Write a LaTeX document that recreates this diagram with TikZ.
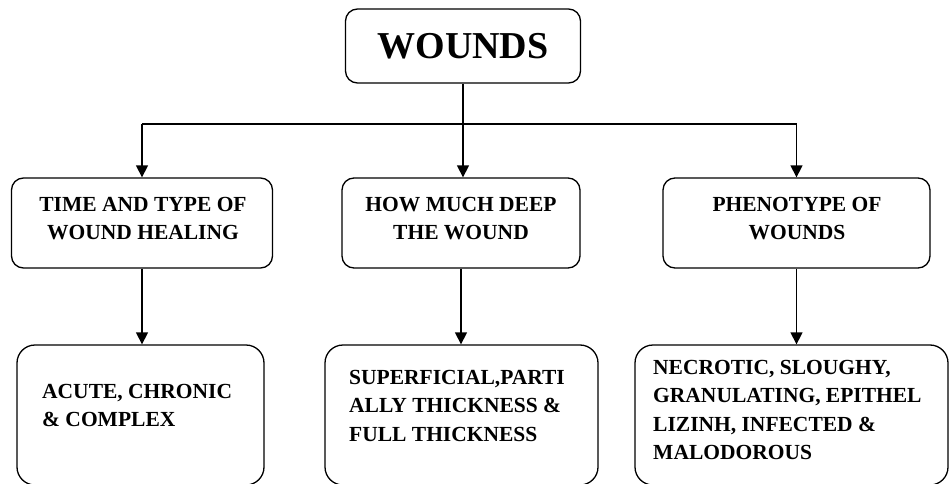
\documentclass[tikz,border=0pt]{standalone}
\usepackage{fontspec}
\setmainfont{Liberation Serif}
\usetikzlibrary{arrows.meta}
\begin{document}
\begin{tikzpicture}[x=1pt,y=-1pt,
  box/.style={draw, line width=1.3pt, rounded corners=12pt, inner sep=0pt},
  bigbox/.style={draw, line width=1.3pt, rounded corners=18pt, inner sep=0pt},
  conn/.style={line width=1.3pt},
  arr/.style={conn, -{Triangle[length=12pt,width=12pt]}},
  head/.style={font=\bfseries\fontsize{38}{40}\selectfont},
  midtxt/.style={inner sep=0pt, align=center, anchor=north,
    font=\bfseries\fontsize{21.5}{28.5}\selectfont},
  lowtxt/.style={inner sep=0pt, align=left, anchor=north west,
    font=\bfseries\fontsize{21.5}{28.5}\selectfont}]
  \useasboundingbox (0,0) rectangle (950,484);

  % root
  \node[box, minimum width=235pt, minimum height=74pt] (wounds) at (463,46) {};
  \node[head] (woundsT) at (463,46) {WOUNDS};

  % second level
  \node[box, minimum width=261pt, minimum height=90pt] (m1) at (142,223) {};
  \node[box, minimum width=238pt, minimum height=90pt] (m2) at (461,223) {};
  \node[box, minimum width=267pt, minimum height=90pt] (m3) at (796.5,223) {};
  \node[midtxt] (m1T) at (143,197) {TIME AND TYPE OF\\WOUND HEALING};
  \node[midtxt] (m2T) at (461,197) {HOW MUCH DEEP\\THE WOUND};
  \node[midtxt] (m3T) at (797,197) {PHENOTYPE OF\\WOUNDS};

  % third level
  \node[bigbox, minimum width=247pt, minimum height=140pt] (b1) at (140.5,415) {};
  \node[bigbox, minimum width=273pt, minimum height=140pt] (b2) at (461.5,415) {};
  \node[bigbox, minimum width=313pt, minimum height=140pt] (b3) at (791.5,415) {};
  \node[lowtxt] (b1T) at (42,384) {ACUTE, CHRONIC\\\& COMPLEX};
  \node[lowtxt] (b2T) at (349,370) {SUPERFICIAL,PARTI\\ALLY THICKNESS \&\\FULL THICKNESS};
  \node[lowtxt] (b3T) at (653,360) {NECROTIC, SLOUGHY,\\GRANULATING, EPITHEL\\LIZINH, INFECTED \&\\MALODOROUS};

  % branching connectors
  \coordinate (hub) at (463,124);
  \coordinate (jl) at (142,124);
  \coordinate (jr) at (796.5,124);
  \draw[conn] (wounds) -- (hub);
  \draw[conn] (jl) -- (jr);
  \draw[arr] (jl) -- (m1);
  \draw[arr] (hub) -- (m2.north -| hub);
  \draw[arr] (jr) -- (m3);
  \draw[arr] (m1.south) -- (m1.south |- b1.north);
  \draw[arr] (m2.south) -- (m2.south |- b2.north);
  \draw[arr] (m3.south) -- (m3.south |- b3.north);
\end{tikzpicture}
\end{document}
